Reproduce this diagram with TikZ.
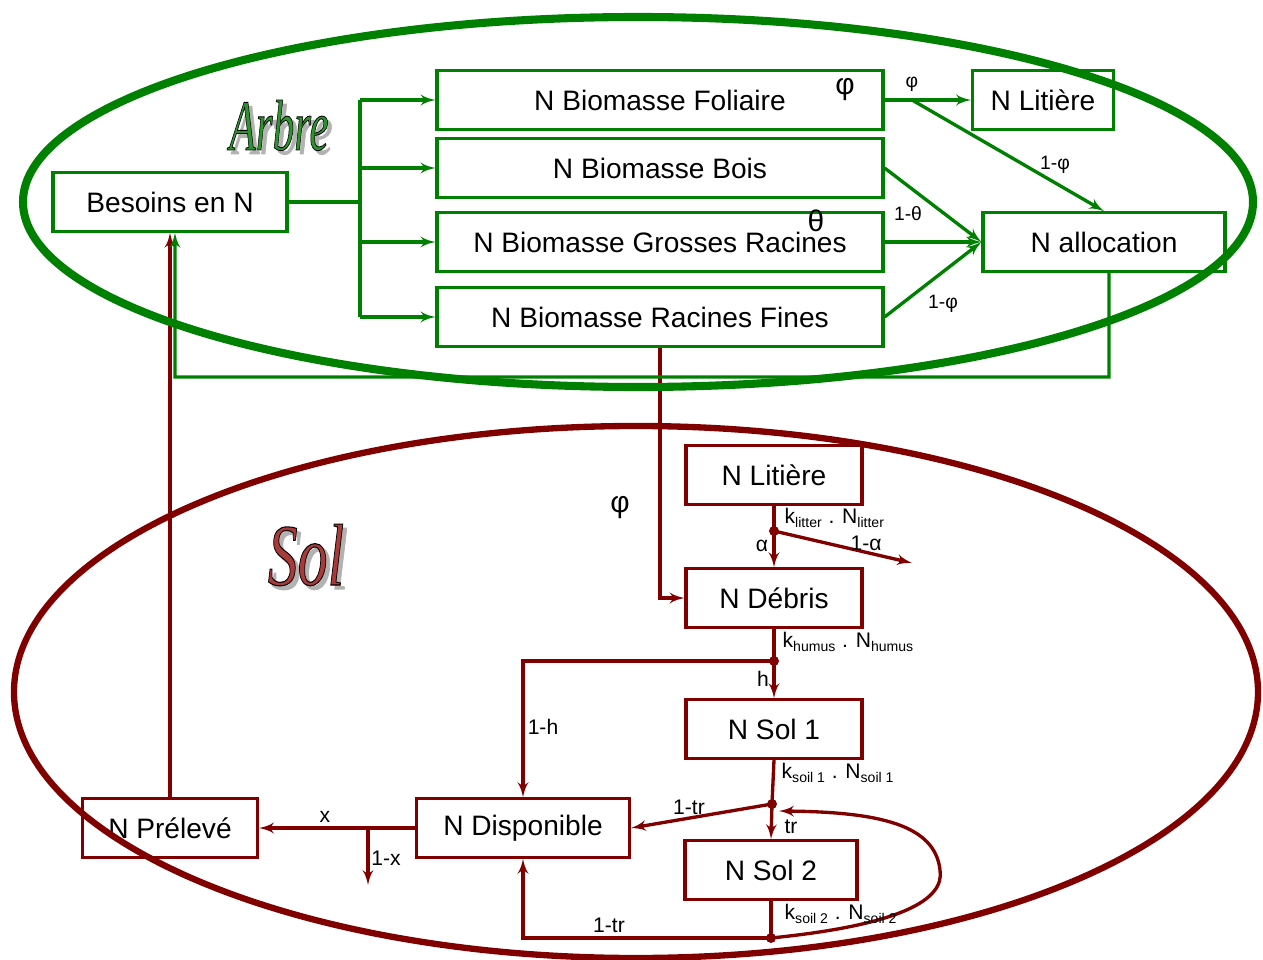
\documentclass[tikz,border=0pt]{standalone}
\usepackage{fontspec}
\setmainfont{Liberation Sans}
\newfontfamily\titlefont{Liberation Serif}[ItalicFeatures={FakeBold=1.2}]
\usepackage{tikz}
\usetikzlibrary{arrows}
\definecolor{arbre}{HTML}{008000}
\definecolor{sol}{HTML}{800000}
\definecolor{arbretxt}{HTML}{2E922E}
\definecolor{soltxt}{HTML}{A83A3A}

\begin{document}
\begin{tikzpicture}[x=0.2mm,y=-0.2mm,>=latex',line width=1.9pt]
  \tikzstyle{gbox}=[draw=arbre,line width=1.8pt,rectangle,minimum height=11.7mm,
                    inner sep=0pt,font=\fontsize{16}{18}\selectfont]
  \tikzstyle{rbox}=[gbox,draw=sol]
  \tikzstyle{lbl}=[inner sep=0pt,font=\fontsize{11}{13}\selectfont]
  \tikzstyle{slbl}=[inner sep=0pt,font=\fontsize{12}{14}\selectfont]
  \tikzstyle{big}=[inner sep=0pt,font=\fontsize{17}{19}\selectfont]
  \tikzstyle{titre}=[anchor=base,inner sep=0pt]
  \useasboundingbox (0,0) rectangle (1263,960);

  % Arbre
  \node[gbox,minimum width=46.8mm] (bes) at (170,202) {Besoins en N};
  \node[gbox,minimum width=89.2mm] (fol) at (660,100) {N Biomasse Foliaire};
  \node[gbox,minimum width=89.2mm] (boi) at (660,168) {N Biomasse Bois};
  \node[gbox,minimum width=89.2mm] (gro) at (660,242) {N Biomasse Grosses Racines};
  \node[gbox,minimum width=89.2mm] (fin) at (660,317) {N Biomasse Racines Fines};
  \node[gbox,minimum width=28.2mm] (lit1) at (1043,100) {N Litière};
  \node[gbox,minimum width=48.4mm] (alloc) at (1104,242) {N allocation};

  % Sol
  \node[rbox,minimum width=35.2mm] (lit2) at (774,475) {N Litière};
  \node[rbox,minimum width=35.2mm] (deb) at (774,598) {N Débris};
  \node[rbox,minimum width=35.2mm] (sol1) at (774,729) {N Sol 1};
  \node[rbox,minimum width=34.4mm] (sol2) at (771,870) {N Sol 2};
  \node[rbox,minimum width=42.6mm] (disp) at (523,828) {N Disponible};
  \node[rbox,minimum width=35mm] (prel) at (170,828) {N Prélevé};

  \coordinate (split) at (360,202);
  \coordinate (phi) at (912,100);
  \coordinate (ret) at (175,377);
  \coordinate (d1) at (774,531);
  \coordinate (out1) at (912,563);
  \coordinate (d2) at (774,661);
  \coordinate (d3) at (772,804);
  \coordinate (back) at (779,811);
  \coordinate (d4) at (771,938);
  \coordinate (xsplit) at (368,828);
  \coordinate (xout) at (368,885);

  % arbre flows
  \begin{scope}[arbre]
    \draw[line width=2.6pt] (bes.east) -- (split);
    \draw (split |- fol) -- (split |- fin);
    \foreach \n in {fol,boi,gro,fin}
      \draw[->] (split |- \n) -- (\n.west);
    \path (fol) edge[->] (lit1)
          (phi) edge[->] (alloc.north)
          (boi.east) edge[->] (alloc.west)
          (gro.east) edge[->] (alloc.west)
          (fin.east) edge[->] (alloc.west);
  \end{scope}

  % sol flows
  \begin{scope}[sol]
    \draw[->] (prel.north) -- (bes.south);
    \draw[->] (fin.south) |- (deb.west);
    \draw (lit2.south) -- (d1);
    \path (d1) edge[->] (deb.north)
               edge[->] (out1);
    \draw (deb.south) -- (d2);
    \draw[->] (d2) -- (sol1.north);
    \draw[->] (d2) -| (disp.north);
    \draw (sol1.south) -- (d3);
    \path (d3) edge[->] (sol2.north)
               edge[->] (disp.east);
    \draw (sol2.south) -- (d4);
    \draw[->] (d4) -| (disp.south);
    \draw[->] (d4) .. controls (900,925) and (945,900) .. (940,870)
                   .. controls (935,825) and (880,812) .. (back);
    \draw[->] (disp.west) -- (prel.east);
    \draw[->] (xsplit) -- (xout);
    \foreach \d in {d1,d2,d3,d4}
      \fill (\d) circle (1mm);
  \end{scope}

  \draw[arbre,->] ([xshift=1mm]alloc.south) |- (ret) -- ([xshift=1mm]bes.south);

  % labels
  \node[big] at (845,90) {φ};
  \node[big] at (816,221) {θ};
  \node[lbl] at (912,84) {φ};
  \node[lbl] at (1055,165) {1-φ};
  \node[lbl] at (908,214) {1-θ};
  \node[lbl] at (943,304) {1-φ};
  \node[big] at (620,508) {φ};
  \node[slbl,anchor=west] at (783,518) {k\textsubscript{litter} . N\textsubscript{litter}};
  \node[slbl] at (762,546) {α};
  \node[slbl] at (866,543) {1-α};
  \node[slbl,anchor=west] at (781,642) {k\textsubscript{humus} . N\textsubscript{humus}};
  \node[slbl] at (763,679) {h};
  \node[slbl] at (543,727) {1-h};
  \node[slbl,anchor=west] at (780,773) {k\textsubscript{soil 1} . N\textsubscript{soil 1}};
  \node[slbl] at (689,807) {1-tr};
  \node[slbl] at (791,827) {tr};
  \node[slbl,anchor=west] at (783,914) {k\textsubscript{soil 2} . N\textsubscript{soil 2}};
  \node[slbl] at (609,925) {1-tr};
  \node[slbl] at (325,817) {x};
  \node[slbl] at (386,858) {1-x};

  % titres (ombre puis texte)
  \node[titre,gray!60] at (283,154)
    {\scalebox{0.6}[1]{\titlefont\itshape\fontsize{41}{45}\selectfont Arbre}};
  \node[titre,arbretxt] at (279,150)
    {\scalebox{0.6}[1]{\titlefont\itshape\fontsize{41}{45}\selectfont
     \special{pdf:code 0 G}Arbre}};
  \node[titre,gray!60] at (310,589)
    {\scalebox{0.68}[1]{\titlefont\itshape\fontsize{50}{55}\selectfont Sol}};
  \node[titre,soltxt] at (306,585)
    {\scalebox{0.68}[1]{\titlefont\itshape\fontsize{50}{55}\selectfont
     \special{pdf:code 0 G}Sol}};

  % ellipses
  \draw[arbre,line width=4.6pt] (638,202) ellipse [x radius=123mm,y radius=37mm];
  \draw[sol,line width=3.6pt] (636,692) ellipse [x radius=124.4mm,y radius=53.2mm];
\end{tikzpicture}
\end{document}
